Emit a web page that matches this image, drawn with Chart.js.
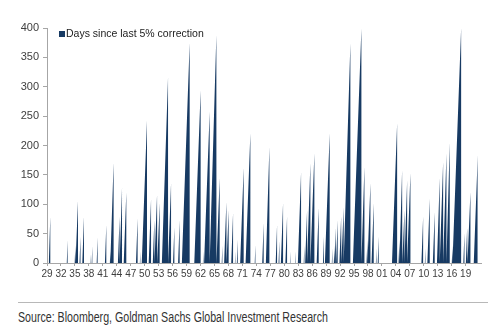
<!DOCTYPE html>
<html>
<head>
<meta charset="utf-8">
<script src="https://cdn.jsdelivr.net/npm/chart.js@4.4.1/dist/chart.umd.min.js"></script>
<style>
  html, body { margin:0; padding:0; background:#fff; }
  #wrap { position:relative; width:500px; height:328px; overflow:hidden; }
  #chartBox { position:absolute; left:0; top:0; width:500px; height:285px; }
  #rule { position:absolute; left:18px; top:302px; width:470px; border-top:1px solid #b8b8b8; }
  #source { position:absolute; left:18px; top:309px; font-family:"Liberation Sans",Arial,sans-serif; font-size:14px; color:#333;
            white-space:nowrap; transform:scaleX(0.76); transform-origin:0 0; }
</style>
</head>
<body>
<div id="wrap">
  <div id="chartBox"><canvas id="c" width="500" height="285"></canvas></div>
  <div id="rule"></div>
  <div id="source">Source: Bloomberg, Goldman Sachs Global Investment Research</div>
</div>
<script>
// each run: the date it ended (decimal year) and how many days the count reached
const seriesName = 'Days since last 5% correction';
const runEnd = [
  1929.39, 1929.71, 1933.43, 1935.09, 1935.67, 1936.20, 1936.96, 1938.31, 1938.74, 1939.88,
  1940.68, 1941.75, 1942.61, 1943.32, 1944.01, 1944.61, 1945.13, 1946.05, 1947.62, 1948.48,
  1949.06, 1950.50, 1951.37, 1952.08, 1952.66, 1953.22, 1953.69, 1955.02, 1955.67, 1956.38,
  1956.91, 1957.52, 1957.99, 1959.67, 1960.35, 1962.03, 1962.61, 1963.97, 1965.41, 1966.12,
  1966.70, 1967.05, 1967.56, 1968.05, 1969.00, 1969.49, 1970.00, 1971.28, 1972.72, 1973.80,
  1974.30, 1975.58, 1976.05, 1976.81, 1977.45, 1978.46, 1978.96, 1979.75, 1980.10, 1980.61,
  1981.32, 1981.97, 1982.40, 1982.93, 1983.62, 1984.33, 1984.91, 1985.62, 1986.48, 1987.41,
  1988.10, 1988.53, 1989.77, 1990.35, 1990.80, 1991.10, 1991.49, 1992.23, 1992.78, 1994.22,
  1994.76, 1996.59, 1997.24, 1997.88, 1998.53, 1999.24, 1999.82, 2000.31, 2000.79, 2002.25,
  2004.27, 2004.76, 2005.34, 2005.84, 2006.42, 2007.13, 2007.67, 2009.86, 2010.35, 2011.28,
  2011.75, 2012.35, 2012.83, 2013.43, 2014.16, 2014.87, 2015.58, 2016.16, 2018.03, 2018.74,
  2019.32, 2020.03, 2021.60
];
const runDays = [
   18,  79,  39,  30, 107,  45,  80,  15,  29,  44,
   10,  65,  20, 171,  30,  79, 129, 120,  27,  76,
   20, 243, 109,  73, 116, 102,  25, 316, 136,  61,
   25,  73,  15, 375,  25, 294,  20, 258, 388, 145,
   30,  40, 104,  90,  85,  20,  40, 162, 221,  31,
   20,  68,  15, 198,  12,  65,  38, 102,  25,  79,
   20,  12,  20,  35, 155,  30,  90, 170, 187,  94,
   20,  45, 221,  25,  30,  60,  73,  79,  95, 374,
   30, 399, 164,  40, 136, 102,  25,  45,  15,  26,
  238,  40, 158,  90, 141, 153,  40,  79,  25, 110,
   30,  87,  20, 145, 172, 187, 205,  30, 400,  51,
   60, 121, 184
];
const daysPerYear = 215;
const yearTicks = { min: 1929, max: 2022.3, step: 3, last: 2019 };
const yTicks = { min: 0, max: 400, step: 50 };

// sawtooth: the count climbs from 0 over the run, then drops back to 0
function buildPoints(){
  const pts = [];
  let prevEnd = -Infinity;
  for (let i = 0; i < runEnd.length; i++) {
    const end = runEnd[i], d = runDays[i];
    const start = Math.max(end - d / daysPerYear, prevEnd);
    pts.push({x:start, y:0}, {x:end, y:d}, {x:end, y:0});
    prevEnd = end;
  }
  return pts;
}

const navy = '#173A63';
const axisGrey = '#a6a6a6';
const labelFont = '"Liberation Sans", Arial, sans-serif';

// legend sits inside the plot, top-left
const insideLegend = {
  id: 'insideLegend',
  afterDraw(chart){
    const ctx = chart.ctx;
    const a = chart.chartArea;
    ctx.save();
    ctx.fillStyle = navy;
    ctx.fillRect(a.left + 12, a.top + 3, 6, 6);
    ctx.fillStyle = '#222';
    ctx.font = '10.5px ' + labelFont;
    ctx.textBaseline = 'alphabetic';
    ctx.fillText(chart.data.datasets[0].label, a.left + 19, a.top + 9);
    ctx.restore();
  }
};

new Chart(document.getElementById('c').getContext('2d'), {
  type: 'line',
  data: {
    datasets: [{
      label: seriesName,
      data: buildPoints(),
      backgroundColor: navy,
      borderColor: navy,
      borderWidth: 0,
      pointRadius: 0,
      tension: 0,
      fill: 'origin'
    }]
  },
  options: {
    responsive: false,
    animation: false,
    events: [],
    layout: { padding: { left: 0, right: 19, top: 28, bottom: 0 } },
    plugins: { legend: { display: false }, tooltip: { enabled: false } },
    scales: {
      x: {
        type: 'linear',
        min: yearTicks.min,
        max: yearTicks.max,
        afterFit(s){ s.height = 22; },
        afterBuildTicks(s){ s.ticks = s.ticks.filter(t => t.value <= yearTicks.last); },
        border: { display: true, color: axisGrey, width: 1 },
        grid: { drawOnChartArea: false, drawTicks: true, tickLength: 3, color: axisGrey },
        ticks: {
          stepSize: yearTicks.step,
          includeBounds: false,
          autoSkip: false,
          maxRotation: 0,
          padding: 2,
          color: '#404040',
          font: { family: labelFont, size: 10 },
          callback: v => String(v % 100).padStart(2, '0')
        }
      },
      y: {
        min: yTicks.min,
        max: yTicks.max,
        afterFit(s){ s.width = 47; },
        border: { display: true, color: axisGrey, width: 1 },
        grid: { drawOnChartArea: false, drawTicks: true, tickLength: 4, color: axisGrey },
        ticks: {
          stepSize: yTicks.step,
          padding: 4,
          color: '#404040',
          font: { family: labelFont, size: 11 }
        }
      }
    }
  },
  plugins: [insideLegend]
});
</script>
</body>
</html>
